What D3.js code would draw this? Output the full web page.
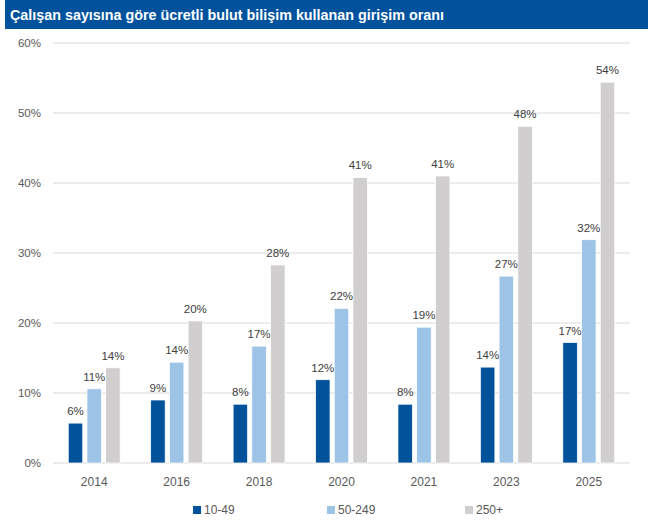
<!DOCTYPE html>
<html>
<head>
<meta charset="utf-8">
<script src="https://cdn.jsdelivr.net/npm/d3@7"></script>
<style>
  body { margin: 0; background: #fff; }
  svg { display: block; font-family: "Liberation Sans", Arial, sans-serif; }
</style>
</head>
<body>
<div id="chartContainer"></div>
<script>
// Grouped bar chart: share of enterprises using paid cloud computing, by size class.

const titleText = 'Çalışan sayısına göre ücretli bulut bilişim kullanan girişim oranı';
const years = ['2014', '2016', '2018', '2020', '2021', '2023', '2025'];
const seriesNames = ['10-49', '50-249', '250+'];
const small = [5.7, 9.0, 8.4, 11.9, 8.4, 13.7, 17.2];
const medium = [10.6, 14.4, 16.7, 22.1, 19.4, 26.7, 31.9];
const large = [13.6, 20.3, 28.3, 40.8, 41.0, 48.1, 54.4];
const yTicks = [0, 10, 20, 30, 40, 50, 60];

const colors = ['#00529b', '#9dc3e6', '#d0cece'];
const seriesValues = [small, medium, large];

const width = 648;
const height = 524;
const margin = { top: 43, right: 18, bottom: 61, left: 53 };
const innerWidth = width - margin.left - margin.right;
const innerHeight = height - margin.top - margin.bottom;

const svg = d3.select('#chartContainer')
  .append('svg')
  .attr('width', width)
  .attr('height', height);

// title bar
svg.append('rect')
  .attr('x', 5)
  .attr('y', 0)
  .attr('width', width - 5)
  .attr('height', 29)
  .attr('fill', '#00529c');

svg.append('text')
  .attr('x', 10)
  .attr('y', 20)
  .attr('fill', '#fff')
  .attr('font-size', 15.5)
  .attr('font-weight', 'bold')
  .attr('textLength', 434)
  .attr('lengthAdjust', 'spacingAndGlyphs')
  .text(titleText);

const g = svg.append('g')
  .attr('transform', `translate(${margin.left},${margin.top})`);

const x0 = d3.scaleBand()
  .domain(years)
  .range([0, innerWidth])
  .paddingInner(0.37)
  .paddingOuter(0.185);

const x1 = d3.scaleBand()
  .domain(seriesNames)
  .range([0, x0.bandwidth()])
  .paddingInner(0.225);

const y = d3.scaleLinear()
  .domain([0, 60])
  .range([innerHeight, 0]);

// gridlines
g.selectAll('.grid')
  .data(yTicks)
  .enter().append('line')
  .attr('x1', 0)
  .attr('x2', innerWidth)
  .attr('y1', d => y(d))
  .attr('y2', d => y(d))
  .attr('stroke', '#d9d9d9')
  .attr('stroke-width', 1);

// y tick labels
g.selectAll('.ytick')
  .data(yTicks)
  .enter().append('text')
  .attr('x', -12)
  .attr('y', d => y(d))
  .attr('dy', '0.35em')
  .attr('text-anchor', 'end')
  .attr('font-size', 11.5)
  .attr('fill', '#595959')
  .text(d => d + '%');

// x labels
g.selectAll('.xlab')
  .data(years)
  .enter().append('text')
  .attr('x', d => x0(d) + x0.bandwidth() / 2)
  .attr('y', innerHeight + 23)
  .attr('text-anchor', 'middle')
  .attr('font-size', 12)
  .attr('fill', '#595959')
  .text(d => d);

const rows = [];
years.forEach((yr, i) => {
  seriesNames.forEach((s, j) => {
    rows.push({ year: yr, series: s, value: seriesValues[j][i], color: colors[j] });
  });
});

g.selectAll('.bar')
  .data(rows)
  .enter().append('rect')
  .attr('x', d => x0(d.year) + x1(d.series))
  .attr('y', d => y(d.value))
  .attr('width', x1.bandwidth())
  .attr('height', d => y(0) - y(d.value))
  .attr('fill', d => d.color)
  .attr('stroke', '#fff')
  .attr('stroke-width', 0.75);

g.selectAll('.vlab')
  .data(rows)
  .enter().append('text')
  .attr('x', d => x0(d.year) + x1(d.series) + x1.bandwidth() / 2)
  .attr('y', d => y(d.value) - 8)
  .attr('text-anchor', 'middle')
  .attr('font-size', 11.5)
  .attr('fill', '#404040')
  .text(d => Math.round(d.value) + '%');

// legend
const legendX = [193, 327, 465];
const legend = svg.selectAll('.legend')
  .data(seriesNames)
  .enter().append('g')
  .attr('transform', (d, i) => `translate(${legendX[i]},506)`);

legend.append('rect')
  .attr('width', 8)
  .attr('height', 8)
  .attr('fill', (d, i) => colors[i]);

legend.append('text')
  .attr('x', 11)
  .attr('y', 4)
  .attr('dy', '0.35em')
  .attr('font-size', 12)
  .attr('fill', '#595959')
  .text(d => d);
</script>
</body>
</html>
